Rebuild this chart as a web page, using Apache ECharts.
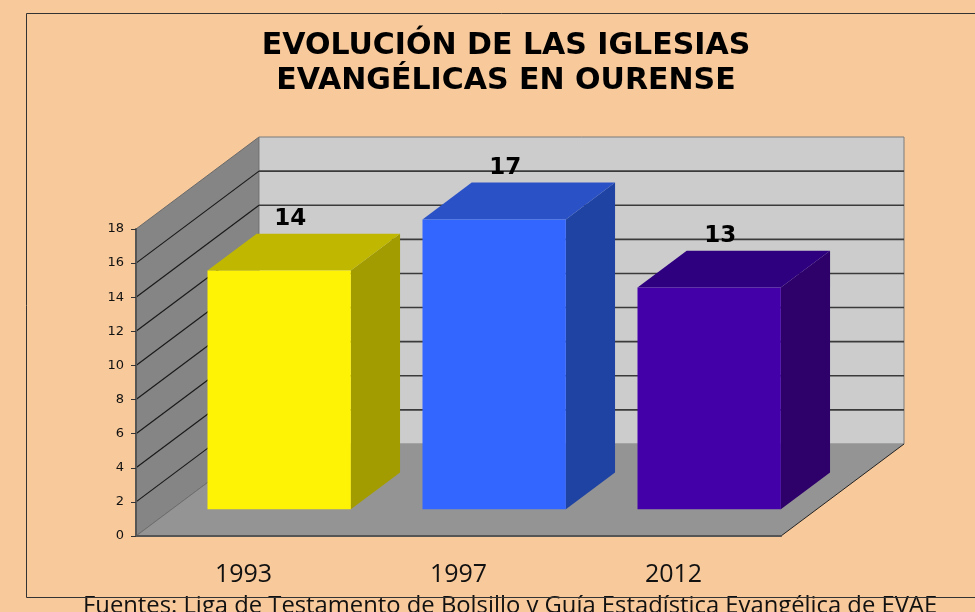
<!DOCTYPE html>
<html>
<head>
<meta charset="utf-8">
<script src="https://cdn.jsdelivr.net/npm/echarts@6/dist/echarts.min.js"></script>
<style>
  html, body { margin: 0; padding: 0; background: #f8c99b; }
  #chart { width: 975px; height: 612px; }
</style>
</head>
<body>
<div id="chart"></div>
<script>
// datos
const years = ['1993', '1997', '2012']
const churches = [14, 17, 13]
const yTicks = [0, 2, 4, 6, 8, 10, 12, 14, 16, 18]

const titleLines = ['EVOLUCIÓN DE LAS IGLESIAS', 'EVANGÉLICAS EN OURENSE']
const footer = 'Fuentes: Liga de Testamento de Bolsillo y Guía Estadística Evangélica de EVAE'

// colores de cada barra: frente, tapa, lateral
const barColors = [
  ['#fff305', '#c0b800', '#a29c00'],
  ['#3366ff', '#2a51c6', '#1f43a2'],
  ['#4400a8', '#2e0080', '#2d006a']
]

const depth = [123, -92] // profundidad de la caja 3D
const barFront = 0.29 // donde empieza la barra en la profundidad
const barBack = 0.69

const chart = echarts.init(document.getElementById('chart'))

function renderWalls(params, api) {
  const cs = params.coordSys
  const x0 = cs.x
  const x1 = cs.x + cs.width
  const yb = cs.y + cs.height
  const yt = cs.y
  const dx = depth[0]
  const dy = depth[1]
  const children = []
  // pared lateral
  children.push({
    type: 'polygon',
    shape: { points: [[x0, yb], [x0 + dx, yb + dy], [x0 + dx, yt + dy], [x0, yt]] },
    style: { fill: '#858585', stroke: '#6a6a6a', lineWidth: 1 }
  })
  // pared del fondo
  children.push({
    type: 'polygon',
    shape: { points: [[x0 + dx, yt + dy], [x1 + dx, yt + dy], [x1 + dx, yb + dy], [x0 + dx, yb + dy]] },
    style: { fill: '#cccccc', stroke: '#7a7a7a', lineWidth: 1 }
  })
  // suelo
  children.push({
    type: 'polygon',
    shape: { points: [[x0, yb], [x1, yb], [x1 + dx, yb + dy], [x0 + dx, yb + dy]] },
    style: { fill: '#949494', stroke: null }
  })
  children.push({
    type: 'line',
    shape: { x1: x1, y1: yb, x2: x1 + dx, y2: yb + dy },
    style: { stroke: '#222', lineWidth: 1 }
  })
  children.push({
    type: 'line',
    shape: { x1: x0, y1: yb, x2: x0 + dx, y2: yb + dy },
    style: { stroke: '#6e6e6e', lineWidth: 1 }
  })
  // lineas de division
  yTicks.forEach(function (v) {
    if (v === 0 || v === yTicks[yTicks.length - 1]) return
    const y = api.coord([0, v])[1]
    children.push({
      type: 'line',
      shape: { x1: x0, y1: y, x2: x0 + dx, y2: y + dy },
      style: { stroke: '#1a1a1a', lineWidth: 1.2 }
    })
    children.push({
      type: 'line',
      shape: { x1: x0 + dx, y1: y + dy, x2: x1 + dx, y2: y + dy },
      style: { stroke: '#3a3a3a', lineWidth: 1.6 }
    })
  })
  return { type: 'group', children: children }
}

function renderBar(params, api) {
  const i = api.value(0)
  const top = api.coord([i, api.value(1)])
  const base = api.coord([i, 0])
  const half = api.size([1, 0])[0] / 3
  const fx = depth[0] * barFront
  const fy = depth[1] * barFront
  const bx = depth[0] * (barBack - barFront)
  const by = depth[1] * (barBack - barFront)
  const xl = top[0] - half + fx
  const xr = top[0] + half + fx
  const yt = top[1] + fy
  const yb = base[1] + fy
  const col = barColors[params.dataIndex]
  return {
    type: 'group',
    children: [
      {
        type: 'polygon',
        shape: { points: [[xr, yt], [xr + bx, yt + by], [xr + bx, yb + by], [xr, yb]] },
        style: { fill: col[2] }
      },
      {
        type: 'polygon',
        shape: { points: [[xl, yt], [xr, yt], [xr + bx, yt + by], [xl + bx, yt + by]] },
        style: { fill: col[1] }
      },
      {
        type: 'rect',
        shape: { x: xl, y: yt, width: xr - xl, height: yb - yt },
        style: { fill: col[0] }
      },
      {
        type: 'text',
        x: top[0] + fx + 11,
        y: yt + by - 15,
        style: {
          text: String(api.value(1)),
          fill: '#000',
          font: 'bold 23px "DejaVu Sans"',
          textAlign: 'center',
          textVerticalAlign: 'middle'
        }
      }
    ]
  }
}

const option = {
  backgroundColor: '#f8c99b',
  animation: false,
  grid: { left: 136, right: 194, top: 229, bottom: 76 },
  xAxis: {
    type: 'category',
    data: years,
    z: 10,
    axisLine: { lineStyle: { color: '#555', width: 2 } },
    axisTick: { length: 7, lineStyle: { color: '#333' } },
    axisLabel: { fontFamily: 'Open Sans', fontSize: 25, color: '#111', margin: 26 },
    splitLine: { show: false }
  },
  yAxis: {
    type: 'value',
    min: 0,
    max: 18,
    interval: 2,
    z: 10,
    axisLine: { show: true, lineStyle: { color: '#555', width: 2 } },
    axisTick: { show: true, length: 5, lineStyle: { color: '#333' } },
    axisLabel: { fontFamily: 'DejaVu Sans', fontSize: 13, color: '#111', margin: 12 },
    splitLine: { show: false }
  },
  graphic: [
    {
      type: 'rect',
      shape: { x: 26.5, y: 13.5, width: 1000, height: 584 },
      style: { fill: null, stroke: '#333', lineWidth: 1 },
      z: 100
    },
    {
      type: 'text',
      x: 506,
      y: 46,
      style: { text: titleLines[0], font: 'bold 30px "DejaVu Sans"', fill: '#000', textAlign: 'center', textVerticalAlign: 'middle' }
    },
    {
      type: 'text',
      x: 506,
      y: 81,
      style: { text: titleLines[1], font: 'bold 30px "DejaVu Sans"', fill: '#000', textAlign: 'center', textVerticalAlign: 'middle' }
    },
    {
      type: 'text',
      x: 83,
      y: 594,
      style: { text: footer, font: '23.8px "Open Sans"', fill: '#111', textAlign: 'left', textVerticalAlign: 'top' }
    }
  ],
  series: [
    {
      type: 'custom',
      renderItem: renderWalls,
      data: [[0]],
      z: 1,
      silent: true
    },
    {
      type: 'custom',
      renderItem: renderBar,
      data: churches.map(function (v, i) { return [i, v] }),
      encode: { x: 0, y: 1 },
      z: 3
    }
  ]
}

chart.setOption(option)
window.addEventListener('resize', function () { chart.resize() })
</script>
</body>
</html>
